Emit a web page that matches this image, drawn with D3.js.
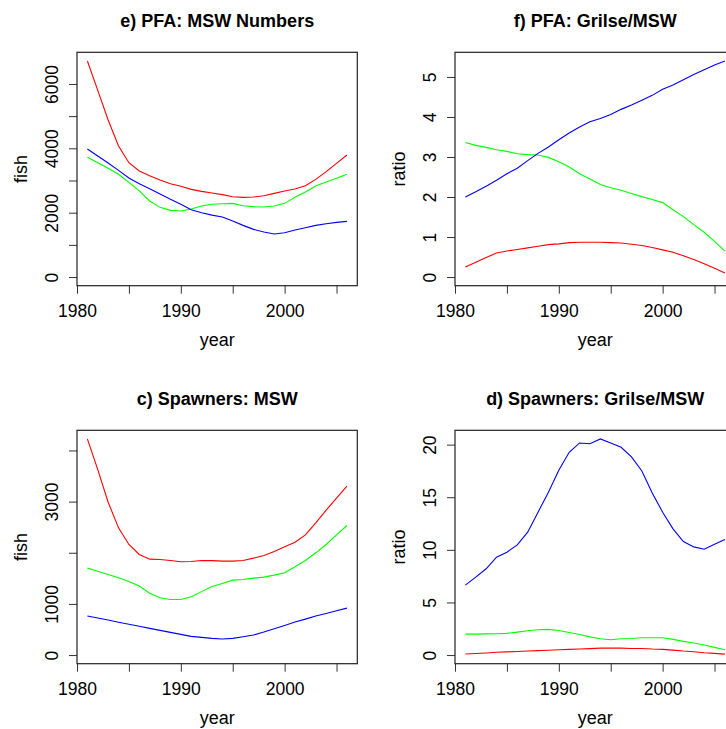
<!DOCTYPE html>
<html>
<head>
<meta charset="utf-8">
<script src="https://cdn.jsdelivr.net/npm/d3@7"></script>
<style>
  body { margin: 0; background: #fff; }
  svg { display: block; overflow: hidden; }
  text { font-family: "Liberation Sans", Arial, Helvetica, sans-serif; fill: #000; }
</style>
</head>
<body>
<svg id="chart" width="726" height="729"></svg>
<script>
// years shared by every panel
const years = [1981, 1982, 1983, 1984, 1985, 1986, 1987, 1988, 1989, 1990, 1991, 1992, 1993,
  1994, 1995, 1996, 1997, 1998, 1999, 2000, 2001, 2002, 2003, 2004, 2005, 2006];

// e) PFA: MSW Numbers
const pfaMswRed = [6715, 5800, 4881, 4073, 3554, 3295, 3150, 3016, 2902, 2819, 2725, 2663, 2611,
  2560, 2497, 2477, 2487, 2528, 2601, 2674, 2736, 2839, 3036, 3275, 3534, 3793];
const pfaMswGreen = [3720, 3554, 3378, 3192, 2940, 2680, 2363, 2166, 2073, 2052, 2114, 2207, 2260,
  2280, 2290, 2218, 2187, 2176, 2207, 2290, 2477, 2642, 2829, 2953, 3067, 3192];
const pfaMswBlue = [3979, 3762, 3544, 3316, 3078, 2902, 2746, 2580, 2415, 2259, 2093, 2000, 1925,
  1865, 1741, 1606, 1482, 1399, 1337, 1378, 1461, 1534, 1606, 1658, 1699, 1731];

// f) PFA: Grilse/MSW
const pfaRatioRed = [0.25, 0.37, 0.49, 0.60, 0.65, 0.69, 0.73, 0.77, 0.81, 0.83, 0.86, 0.87, 0.87,
  0.87, 0.86, 0.85, 0.82, 0.79, 0.74, 0.68, 0.62, 0.53, 0.44, 0.33, 0.22, 0.10];
const pfaRatioGreen = [3.36, 3.29, 3.24, 3.18, 3.14, 3.08, 3.06, 3.05, 2.99, 2.88, 2.75, 2.58, 2.45,
  2.31, 2.23, 2.17, 2.09, 2.01, 1.94, 1.86, 1.68, 1.51, 1.31, 1.12, 0.89, 0.65];
const pfaRatioBlue = [2.00, 2.13, 2.27, 2.42, 2.58, 2.72, 2.91, 3.09, 3.25, 3.43, 3.60, 3.75, 3.88,
  3.96, 4.06, 4.19, 4.30, 4.42, 4.54, 4.69, 4.80, 4.93, 5.06, 5.18, 5.30, 5.40];

// c) Spawners: MSW
const spMswRed = [4225, 3626, 2988, 2487, 2161, 1966, 1875, 1868, 1849, 1823, 1829, 1849, 1846,
  1836, 1836, 1849, 1895, 1947, 2025, 2116, 2207, 2350, 2585, 2832, 3066, 3301];
const spMswGreen = [1700, 1640, 1575, 1510, 1440, 1350, 1210, 1120, 1085, 1085, 1140, 1240, 1340,
  1400, 1465, 1478, 1504, 1523, 1562, 1608, 1725, 1849, 1999, 2161, 2350, 2533];
const spMswBlue = [762, 723, 684, 641, 602, 562, 522, 483, 443, 404, 365, 345, 326,
  313, 326, 358, 391, 449, 514, 579, 645, 703, 762, 814, 866, 918];

// d) Spawners: Grilse/MSW
const spRatioRed = [0.10, 0.15, 0.20, 0.26, 0.30, 0.34, 0.38, 0.42, 0.46, 0.50, 0.54, 0.58, 0.61,
  0.66, 0.66, 0.66, 0.63, 0.63, 0.57, 0.54, 0.47, 0.38, 0.32, 0.22, 0.16, 0.09];
const spRatioGreen = [1.99, 1.99, 2.01, 2.03, 2.06, 2.18, 2.31, 2.41, 2.44, 2.34, 2.15, 1.96, 1.73,
  1.55, 1.46, 1.55, 1.58, 1.65, 1.65, 1.65, 1.49, 1.30, 1.14, 0.95, 0.73, 0.51];
const spRatioBlue = [6.65, 7.41, 8.20, 9.30, 9.78, 10.47, 11.68, 13.58, 15.47, 17.56, 19.27, 20.16, 20.09,
  20.54, 20.16, 19.75, 18.83, 17.50, 15.41, 13.58, 11.99, 10.79, 10.28, 10.06, 10.54, 10.98];

// axis ticks and which of them carry a label
const xTicks = [1980, 1985, 1990, 1995, 2000, 2005];
const xLabels = [1980, 1990, 2000];
const fishTicksE = [0, 1000, 2000, 3000, 4000, 5000, 6000];
const fishLabelsE = [0, 2000, 4000, 6000];
const fishTicksC = [0, 1000, 2000, 3000, 4000];
const fishLabelsC = [0, 1000, 3000];
const ratioTicksF = [0, 1, 2, 3, 4, 5];
const ratioTicksD = [0, 5, 10, 15, 20];

const panels = [
  { title: "e) PFA: MSW Numbers", ylab: "fish", col: 0, row: 0,
    series: [pfaMswRed, pfaMswGreen, pfaMswBlue], yTicks: fishTicksE, yLabels: fishLabelsE },
  { title: "f) PFA: Grilse/MSW", ylab: "ratio", col: 1, row: 0,
    series: [pfaRatioRed, pfaRatioGreen, pfaRatioBlue], yTicks: ratioTicksF, yLabels: ratioTicksF },
  { title: "c) Spawners: MSW", ylab: "fish", col: 0, row: 1,
    series: [spMswRed, spMswGreen, spMswBlue], yTicks: fishTicksC, yLabels: fishLabelsC },
  { title: "d) Spawners: Grilse/MSW", ylab: "ratio", col: 1, row: 1,
    series: [spRatioRed, spRatioGreen, spRatioBlue], yTicks: ratioTicksD, yLabels: ratioTicksD },
];

const colors = ["#ff0000", "#00ff00", "#0000ff"];

// panel geometry (mimics R's mfrow layout, right column runs off the page)
const cell = 378;
const box = { left: 77, top: 52.3, width: 280.3, height: 233.4 };

const svg = d3.select("#chart");
svg.append("rect").attr("width", 726).attr("height", 729).attr("fill", "#fff");

// R pads the data range by 4% on each side
function padded(lo, hi) {
  const pad = (hi - lo) * 0.04;
  return [lo - pad, hi + pad];
}

panels.forEach(p => {
  const g = svg.append("g")
    .attr("transform", `translate(${p.col * cell + box.left},${p.row * cell + box.top})`);

  const x = d3.scaleLinear()
    .domain(padded(d3.min(years), d3.max(years)))
    .range([0, box.width]);
  const yMax = d3.max(p.series, s => d3.max(s));
  const y = d3.scaleLinear()
    .domain(padded(0, yMax))
    .range([box.height, 0]);

  // x axis
  const xAxis = g.append("g")
    .attr("transform", `translate(0,${box.height})`)
    .call(d3.axisBottom(x)
      .tickValues(xTicks)
      .tickSize(8)
      .tickFormat(d => xLabels.includes(d) ? d : ""));
  xAxis.select(".domain").remove();
  xAxis.selectAll("line").attr("stroke", "#333");
  xAxis.selectAll("text")
    .attr("y", 31).attr("dy", null)
    .attr("font-size", 17.5)
    .attr("fill", "#000");

  // y axis, labels rotated like R's las=0
  const yAxis = g.append("g")
    .call(d3.axisLeft(y)
      .tickValues(p.yTicks)
      .tickSize(8)
      .tickFormat(d => p.yLabels.includes(d) ? d : ""));
  yAxis.select(".domain").remove();
  yAxis.selectAll("line").attr("stroke", "#333");
  yAxis.selectAll("text")
    .attr("x", 0).attr("y", -19).attr("dy", null)
    .attr("transform", "rotate(-90)")
    .attr("text-anchor", "middle")
    .attr("font-size", 17.5)
    .attr("fill", "#000");

  // the three lines
  const line = d3.line()
    .x((d, i) => x(years[i]))
    .y(d => y(d));
  g.selectAll("path.series")
    .data(p.series)
    .join("path")
    .attr("class", "series")
    .attr("d", line)
    .attr("fill", "none")
    .attr("stroke", (d, i) => colors[i])
    .attr("stroke-width", 1.1);

  // plot box
  g.append("rect")
    .attr("width", box.width).attr("height", box.height)
    .attr("fill", "none").attr("stroke", "#222").attr("stroke-width", 1.2);

  // title and axis titles
  g.append("text")
    .attr("x", box.width / 2).attr("y", -25.5)
    .attr("text-anchor", "middle")
    .attr("font-size", 18).attr("font-weight", "bold")
    .text(p.title);
  g.append("text")
    .attr("x", box.width / 2).attr("y", box.height + 60)
    .attr("text-anchor", "middle")
    .attr("font-size", 18)
    .text("year");
  g.append("text")
    .attr("transform", `translate(-50,${box.height / 2}) rotate(-90)`)
    .attr("text-anchor", "middle")
    .attr("font-size", 18)
    .text(p.ylab);
});
</script>
</body>
</html>
